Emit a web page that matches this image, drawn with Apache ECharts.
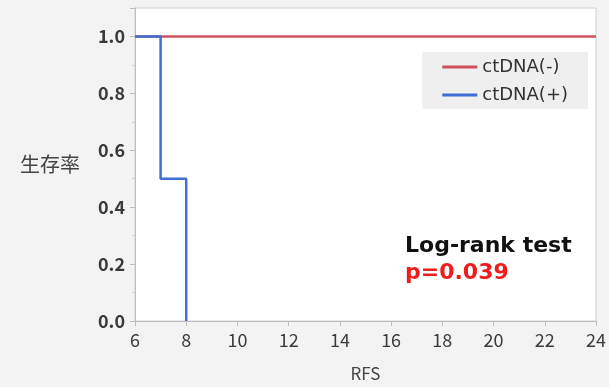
<!DOCTYPE html>
<html><head><meta charset="utf-8">
<script src="https://cdn.jsdelivr.net/npm/echarts@6/dist/echarts.min.js"></script>
<style>html,body{margin:0;padding:0;background:#f3f3f3;}#c{width:609px;height:387px;}</style>
</head><body><div id="c"></div>
<script>
var seriesNames = ['ctDNA(-)', 'ctDNA(+)'];
var negTimes = [6, 24];
var negSurv = [1.0, 1.0];
var posTimes = [6, 7, 7, 8, 8];
var posSurv = [1.0, 1.0, 0.5, 0.5, 0.0];
var xTicks = [6, 8, 10, 12, 14, 16, 18, 20, 22, 24];
var yTicks = [0.0, 0.2, 0.4, 0.6, 0.8, 1.0];
var testLabel = 'Log-rank test';
var pLabel = 'p=0.039';

function zip(a, b) { return a.map(function (v, i) { return [v, b[i]]; }); }

var chart = echarts.init(document.getElementById('c'));
var font = '"Noto Sans CJK JP", "Noto Sans", sans-serif';
chart.setOption({
  backgroundColor: '#f3f3f3',
  animation: false,
  textStyle: { fontFamily: font },
  grid: { left: 135, right: 10, top: 8, bottom: 65, show: true, backgroundColor: '#ffffff', borderColor: '#d0d0d0', borderWidth: 1 },
  legend: {
    right: 21, top: 52, orient: 'vertical', itemWidth: 35, itemHeight: 3, itemGap: 10,
    backgroundColor: '#efefef', padding: [6, 20, 5, 20],
    textStyle: { fontSize: 18, color: '#333', fontFamily: '"DejaVu Sans", sans-serif' },
    data: [
      { name: seriesNames[0], icon: 'rect' },
      { name: seriesNames[1], icon: 'rect' }
    ]
  },
  xAxis: {
    type: 'value', min: xTicks[0], max: xTicks[xTicks.length - 1], interval: 2,
    name: 'RFS', nameLocation: 'middle', nameGap: 44,
    nameTextStyle: { fontSize: 17, color: '#444' },
    axisLine: { show: true, lineStyle: { color: '#bdbdbd' } },
    axisTick: { show: true, length: 5, lineStyle: { color: '#bdbdbd' } },
    axisLabel: { fontSize: 18, color: '#3a3a3a', margin: 10 },
    splitLine: { show: false }
  },
  yAxis: {
    type: 'value', min: 0, max: 1.1, interval: 0.2,
    name: '生存率', nameLocation: 'middle', nameGap: 55, nameRotate: 0,
    nameTextStyle: { fontSize: 20, color: '#444' },
    axisLine: { show: true, lineStyle: { color: '#bdbdbd' } },
    axisTick: { show: true, length: 5, lineStyle: { color: '#bdbdbd' } },
    minorTick: { show: true, splitNumber: 2, length: 3, lineStyle: { color: '#cfcfcf' } },
    axisLabel: {
      fontSize: 18, color: '#3a3a3a', fontWeight: 'bold', margin: 10,
      formatter: function (v) {
        for (var i = 0; i < yTicks.length; i++) { if (Math.abs(v - yTicks[i]) < 1e-6) return yTicks[i].toFixed(1); }
        return '';
      }
    },
    splitLine: { show: false }
  },
  series: [
    {
      name: seriesNames[0], type: 'line', data: zip(negTimes, negSurv), symbol: 'none',
      lineStyle: { color: '#d1505f', width: 2.5 }, itemStyle: { color: '#d1505f' }, z: 2
    },
    {
      name: seriesNames[1], type: 'line', data: zip(posTimes, posSurv), symbol: 'none',
      lineStyle: { color: '#3f6fd6', width: 2.5 }, itemStyle: { color: '#3f6fd6' }, z: 3
    }
  ],
  graphic: [
    { type: 'text', left: 405, top: 235, style: { text: testLabel, fontSize: 22, fontWeight: 'bold', fill: '#111', fontFamily: '"DejaVu Sans", sans-serif' } },
    { type: 'text', left: 405, top: 262, style: { text: pLabel, fontSize: 22, fontWeight: 'bold', fill: '#ee1c1c', fontFamily: '"DejaVu Sans", sans-serif' } }
  ]
});
</script></body></html>
